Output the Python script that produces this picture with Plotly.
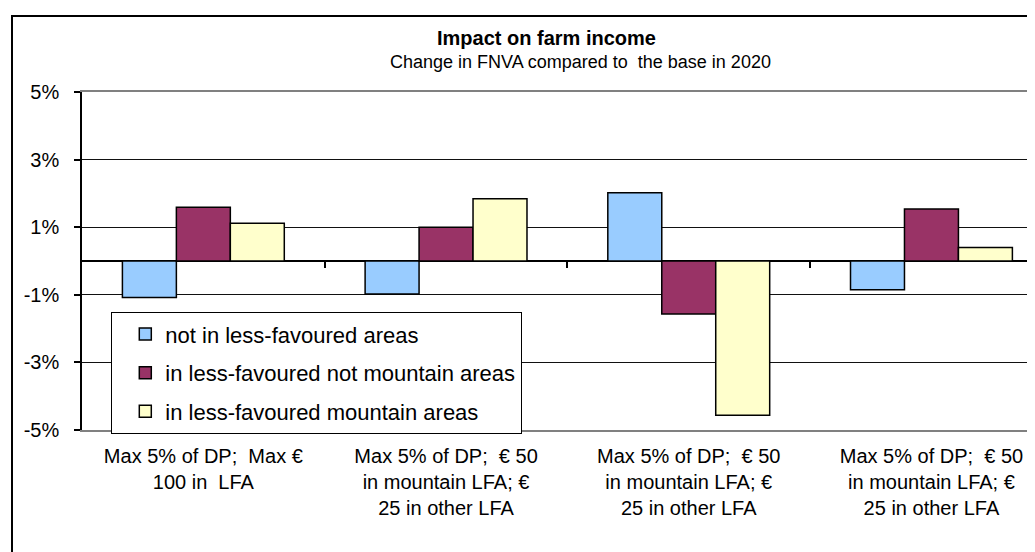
import plotly.graph_objects as go

categories = [
    "Max 5% of DP;  Max €<br>100 in  LFA",
    "Max 5% of DP;  € 50<br>in mountain LFA; €<br>25 in other LFA",
    "Max 5% of DP;  € 50<br>in mountain LFA; €<br>25 in other LFA",
    "Max 5% of DP;  € 50<br>in mountain LFA; €<br>25 in other LFA",
]
series_names = [
    "not in less-favoured areas",
    "in less-favoured not mountain areas",
    "in less-favoured mountain areas",
]
not_lfa = [-1.08, -0.98, 2.02, -0.85]
lfa_not_mountain = [1.59, 1.00, -1.57, 1.54]
lfa_mountain = [1.12, 1.84, -4.56, 0.40]
series_values = [not_lfa, lfa_not_mountain, lfa_mountain]
colors = ["#99CCFF", "#993366", "#FFFFCC"]
y_ticks = [-5, -3, -1, 1, 3, 5]
y_ticktext = [f"{v}%" for v in y_ticks]

FONT = "Liberation Sans, Arial, sans-serif"
OFF = 8                      # page body margin
W, H = 1035 - OFF, 552 - OFF
PL, PT, PB = 82, 92, 430     # plot area in page pixels
L, T = PL - OFF, PT - OFF
B = H - (PB - OFF)
plot_w = W - L
ph = H - T - B
pos = list(range(len(categories)))


def px_x(page_x):
    return (page_x - PL) / plot_w


def px_y(page_y):
    return (PB - page_y) / ph


fig = go.Figure()
for i, (name, vals, col) in enumerate(zip(series_names, series_values, colors)):
    fig.add_trace(go.Bar(
        x=pos, y=vals, name=name, legendgroup=f"g{i}",
        marker=dict(color=col, line=dict(color="black", width=1.5)),
    ))
# helper axis carrying the category-boundary ticks on the zero line
fig.add_trace(go.Scatter(x=[], y=[], xaxis="x2", showlegend=False, hoverinfo="skip"))

cat_px = 242.7
xr = [-0.5, -0.5 + plot_w / cat_px]

fig.update_layout(
    width=W, height=H,
    margin=dict(l=L, r=0, t=T, b=B, autoexpand=False),
    paper_bgcolor="white", plot_bgcolor="white",
    font=dict(family=FONT, size=18, color="black"),
    barmode="group", bargap=0.333, bargroupgap=0,
    xaxis=dict(
        range=xr, tickvals=pos, ticktext=categories, ticks="",
        showgrid=False, zeroline=False, showline=True, mirror=True,
        linecolor="#808080", linewidth=2, tickfont=dict(size=20),
        automargin=False, ticklabelstandoff=7,
    ),
    xaxis2=dict(
        overlaying="x", anchor="free", position=0.5, side="bottom",
        range=xr, tickvals=[p + 0.5 for p in pos[:-1]], ticks="outside",
        ticklen=6, tickwidth=1.5, tickcolor="black", showticklabels=False,
        showgrid=False, zeroline=False, showline=False,
    ),
    yaxis=dict(
        range=[-5, 5], tickvals=y_ticks, ticktext=y_ticktext,
        ticks="outside", ticklen=6, tickcolor="black", tickwidth=1.5,
        showgrid=True, gridcolor="#111111", gridwidth=1.3,
        zeroline=True, zerolinecolor="black", zerolinewidth=1.5,
        showline=True, linecolor="black", linewidth=1.5,
        tickfont=dict(size=20), automargin=False, ticklabelstandoff=11,
    ),
    legend=dict(
        x=px_x(111), y=px_y(312),
        xanchor="left", yanchor="top",
        bgcolor="white", bordercolor="black", borderwidth=1.3,
        font=dict(size=22), tracegroupgap=7, indentation=13,
    ),
    showlegend=True,
)

fig.add_annotation(text="<b>Impact on farm income</b>", x=px_x(546), y=px_y(38),
                   xref="paper", yref="paper", xanchor="center", yanchor="middle",
                   showarrow=False, font=dict(size=20))
fig.add_annotation(text="Change in FNVA compared to  the base in 2020",
                   x=px_x(580), y=px_y(62), xref="paper", yref="paper",
                   xanchor="center", yanchor="middle", showarrow=False,
                   font=dict(size=18))
fig.add_shape(type="rect", xref="paper", yref="paper",
              x0=px_x(12), x1=1.1, y0=-0.5, y1=px_y(16),
              line=dict(color="black", width=2), layer="above")

fig.write_html("out.html")
